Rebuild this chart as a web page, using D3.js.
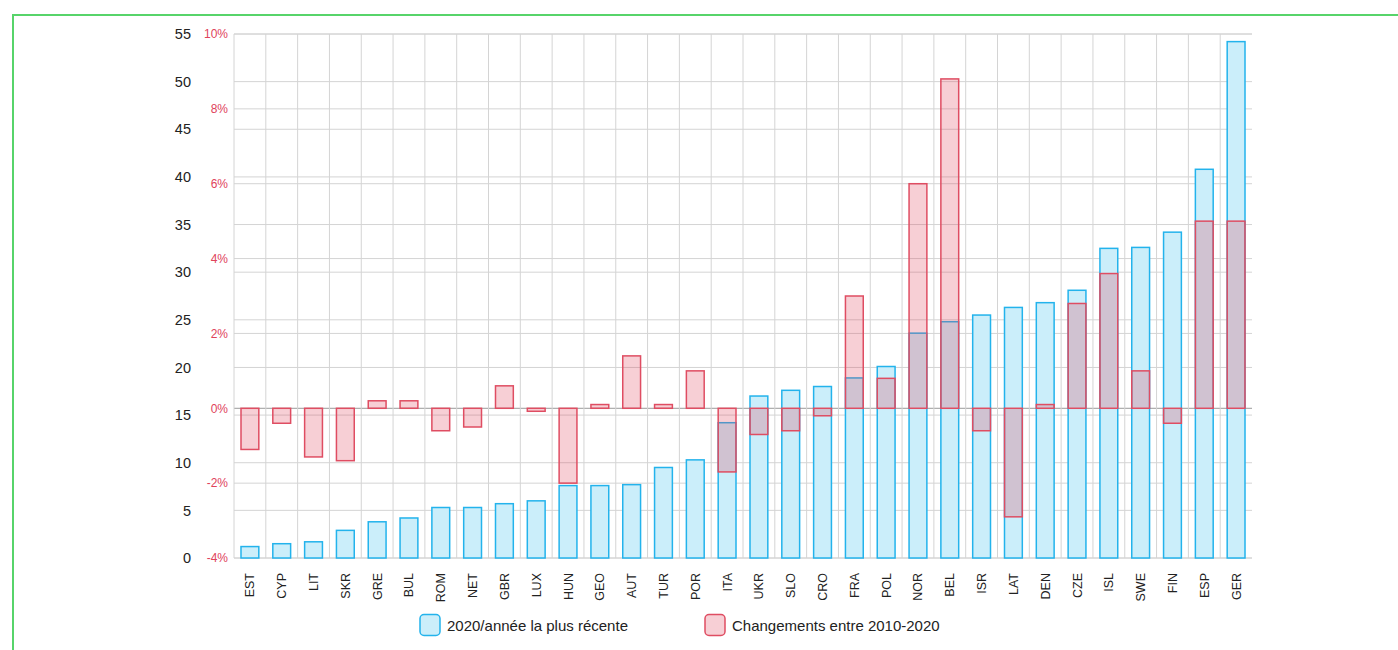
<!DOCTYPE html>
<html>
<head>
<meta charset="utf-8">
<script src="https://cdn.jsdelivr.net/npm/d3@7"></script>
<style>
  body { margin: 0; background: #fff; font-family: "Liberation Sans", Arial, sans-serif; }
  #frame { position: absolute; left: 12px; top: 14px; width: 1500px; height: 800px; border: 2px solid #57d46a; }
  #chart { position: absolute; left: 0; top: 0; }
</style>
</head>
<body>
<div id="frame"></div>
<div id="chart"></div>
<script>
// country codes, 2020 value (left axis) and change 2010-2020 in % (right axis)
var countries = ["EST","CYP","LIT","SKR","GRE","BUL","ROM","NET","GBR","LUX","HUN","GEO","AUT","TUR","POR","ITA",
    "UKR","SLO","CRO","FRA","POL","NOR","BEL","ISR","LAT","DEN","CZE","ISL","SWE","FIN","ESP","GER"];
var recent = [1.2, 1.5, 1.7, 2.9, 3.8, 4.2, 5.3, 5.3, 5.7, 6.0, 7.6, 7.6, 7.7, 9.5, 10.3, 14.2,
    17.0, 17.6, 18.0, 18.9, 20.1, 23.6, 24.8, 25.5, 26.3, 26.8, 28.1, 32.5, 32.6, 34.2, 40.8, 54.2];
var change = [-1.1, -0.4, -1.3, -1.4, 0.2, 0.2, -0.6, -0.5, 0.6, -0.08, -2.0, 0.1, 1.4, 0.1, 1.0, -1.7,
    -0.7, -0.6, -0.2, 3.0, 0.8, 6.0, 8.8, -0.6, -2.9, 0.1, 2.8, 3.6, 1.0, -0.4, 5.0, 5.0];
var leftTicks = [0, 5, 10, 15, 20, 25, 30, 35, 40, 45, 50, 55];
var rightTicks = [-4, -2, 0, 2, 4, 6, 8, 10];
var legendLabels = ["2020/année la plus récente", "Changements entre 2010-2020"];

var svgWidth = 1398, svgHeight = 650;
var margin = { top: 34, right: 146, bottom: 92, left: 234 };
var width = svgWidth - margin.left - margin.right;
var height = svgHeight - margin.top - margin.bottom;

var svg = d3.select("#chart").append("svg")
    .attr("width", svgWidth)
    .attr("height", svgHeight);

var g = svg.append("g")
    .attr("transform", `translate(${margin.left}, ${margin.top})`);

var x = d3.scaleBand().domain(countries).range([0, width]).paddingInner(0.44).paddingOuter(0.22);
var xGrid = d3.scaleBand().domain(countries).range([0, width]);
var yLeft = d3.scaleLinear().domain([0, 55]).range([height, 0]);
var yRight = d3.scaleLinear().domain([-4, 10]).range([height, 0]);

// grid lines
g.append("g").selectAll("line.h1")
    .data(leftTicks).enter().append("line")
    .attr("x1", 0).attr("x2", width)
    .attr("y1", d => yLeft(d)).attr("y2", d => yLeft(d))
    .attr("stroke", "#d4d4d4");
g.append("g").selectAll("line.h2")
    .data(rightTicks).enter().append("line")
    .attr("x1", 0).attr("x2", width)
    .attr("y1", d => yRight(d)).attr("y2", d => yRight(d))
    .attr("stroke", d => d === 0 ? "#9a9a9a" : "#d4d4d4");
g.append("g").selectAll("line.v")
    .data(countries).enter().append("line")
    .attr("x1", d => xGrid(d)).attr("x2", d => xGrid(d))
    .attr("y1", 0).attr("y2", height)
    .attr("stroke", "#d4d4d4");

// blue bars
g.append("g").selectAll("rect")
    .data(recent).enter().append("rect")
    .attr("x", (d, i) => x(countries[i]))
    .attr("width", x.bandwidth())
    .attr("y", d => yLeft(d))
    .attr("height", d => yLeft(0) - yLeft(d))
    .attr("fill", "#cbeefa")
    .attr("stroke", "#23b3ec")
    .attr("stroke-width", 1.5);

// red bars
g.append("g").selectAll("rect")
    .data(change).enter().append("rect")
    .attr("x", (d, i) => x(countries[i]))
    .attr("width", x.bandwidth())
    .attr("y", d => yRight(Math.max(0, d)))
    .attr("height", d => Math.abs(yRight(d) - yRight(0)))
    .attr("fill", "rgba(223,63,87,0.25)")
    .attr("stroke", "#df4d62")
    .attr("stroke-width", 1.5);

// left axis labels
var leftAxis = d3.axisLeft(yLeft).tickValues(leftTicks).tickSize(0).tickPadding(0);
var la = g.append("g").attr("transform", "translate(-43,0)").call(leftAxis);
la.select(".domain").remove();
la.selectAll("text").attr("font-size", 14.5).attr("fill", "#222")
    .attr("font-family", "'Liberation Sans', Arial, sans-serif");

// right-scale labels, drawn at the left side
var rightAxis = d3.axisLeft(yRight).tickValues(rightTicks).tickSize(0).tickPadding(0)
    .tickFormat(d => d + "%");
var ra = g.append("g").attr("transform", "translate(-6,0)").call(rightAxis);
ra.select(".domain").remove();
ra.selectAll("text").attr("font-size", 12).attr("fill", "#e0435b")
    .attr("font-family", "'Liberation Sans', Arial, sans-serif");

// x labels
g.append("g").selectAll("text")
    .data(countries).enter().append("text")
    .attr("transform", d => `translate(${xGrid(d) + xGrid.bandwidth() / 2 + 4.5}, ${height + 15}) rotate(-90)`)
    .attr("text-anchor", "end")
    .attr("font-size", 12.5)
    .attr("fill", "#222")
    .text(d => d);

// legend
var legend = svg.append("g").attr("transform", "translate(419, 614)");
var items = [
    { x: 0, fill: "#cbeefa", stroke: "#23b3ec" },
    { x: 285, fill: "#f7cfd5", stroke: "#df4d62" }
];
items.forEach(function(it, i) {
    legend.append("rect")
        .attr("x", it.x + 1).attr("y", 0.5)
        .attr("width", 20).attr("height", 21)
        .attr("rx", 4)
        .attr("fill", it.fill)
        .attr("stroke", it.stroke)
        .attr("stroke-width", 1.5);
    legend.append("text")
        .attr("x", it.x + 28).attr("y", 16.5)
        .attr("font-size", 15)
        .attr("fill", "#222")
        .text(legendLabels[i]);
});
</script>
</body>
</html>
